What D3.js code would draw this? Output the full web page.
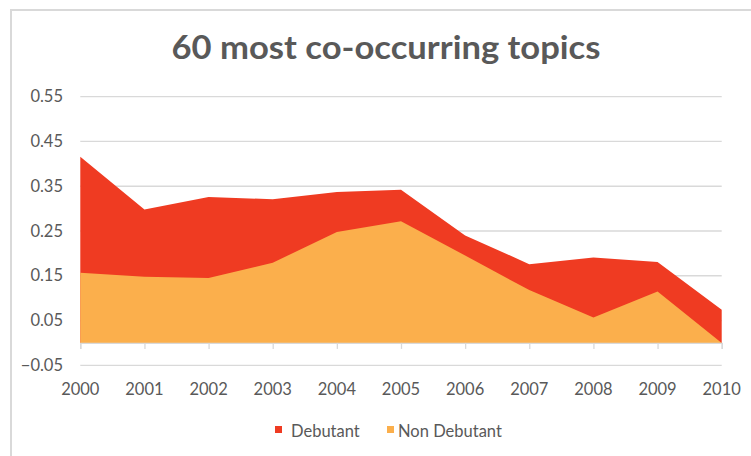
<!DOCTYPE html>
<html>
<head>
<meta charset="utf-8">
<script src="https://cdn.jsdelivr.net/npm/d3@7"></script>
<style>
  body { margin: 0; background: #fff; }
  text { font-family: Lato, "Open Sans", sans-serif; fill: #595959; }
</style>
</head>
<body>
<div id="chart"></div>
<script>
// data
var years = [2000, 2001, 2002, 2003, 2004, 2005, 2006, 2007, 2008, 2009, 2010]
var debutant = [0.416, 0.298, 0.326, 0.321, 0.337, 0.342, 0.240, 0.176, 0.191, 0.181, 0.074]
var nonDebutant = [0.157, 0.148, 0.145, 0.179, 0.248, 0.272, 0.195, 0.118, 0.057, 0.115, 0.0]
var yTicks = [-0.05, 0.05, 0.15, 0.25, 0.35, 0.45, 0.55]
var seriesNames = ["Debutant", "Non Debutant"]
var colors = ["#EF3B22", "#FBAF4C"]

var W = 751, H = 456
var x0 = 80.3, x1 = 721.7, yTop = 96.7, yBot = 365.3

var svg = d3.select("#chart").append("svg")
  .attr("width", W).attr("height", H)

// chart border (cropped at right/bottom)
svg.append("path")
  .attr("d", "M11,456 V10 H751")
  .attr("fill", "none").attr("stroke", "#d9d9d9").attr("stroke-width", 2)

var x = d3.scaleLinear().domain([2000, 2010]).range([x0, x1])
var y = d3.scaleLinear().domain([-0.05, 0.55]).range([yBot, yTop])

// gridlines
svg.append("g").selectAll("line").data(yTicks).enter().append("line")
  .attr("x1", x0).attr("x2", x1)
  .attr("y1", d => y(d)).attr("y2", d => y(d))
  .attr("stroke", "#d9d9d9").attr("stroke-width", 1.3)

// y labels
svg.append("g").selectAll("text").data(yTicks).enter().append("text")
  .attr("x", 63).attr("y", d => y(d) + 5.5)
  .attr("text-anchor", "end").style("font-size", "16.5px")
  .text(d => d3.format(".2f")(d))

// areas (overlapping, not stacked)
var series = [debutant, nonDebutant]
series.forEach((vals, i) => {
  var area = d3.area()
    .x((d, j) => x(years[j]))
    .y0(y(0))
    .y1(d => y(d))
  svg.append("path")
    .datum(vals)
    .attr("d", area)
    .attr("fill", colors[i])
})

// category axis at zero with ticks
var xAxis = svg.append("g")
  .attr("transform", "translate(0," + y(0) + ")")
  .call(d3.axisBottom(x).tickValues(years).tickSize(6).tickFormat(""))
xAxis.select(".domain").attr("stroke", "#d9d9d9").attr("stroke-width", 1.3)
xAxis.selectAll(".tick line").attr("stroke", "#d9d9d9").attr("stroke-width", 1.3)

// x labels at bottom
svg.append("g").selectAll("text").data(years).enter().append("text")
  .attr("x", d => x(d)).attr("y", 395)
  .attr("text-anchor", "middle").style("font-size", "16.5px")
  .text(d => d)

// title
svg.append("text")
  .attr("x", 386).attr("y", 59)
  .attr("text-anchor", "middle")
  .attr("textLength", 429).attr("lengthAdjust", "spacingAndGlyphs")
  .style("font-size", "32px").style("font-weight", "bold")
  .text("60 most co-occurring topics")

// legend
var legendX = [275, 387]
var legendTextX = [291, 398]
seriesNames.forEach((name, i) => {
  svg.append("rect")
    .attr("x", legendX[i]).attr("y", 426)
    .attr("width", 7).attr("height", 7)
    .attr("fill", colors[i])
  svg.append("text")
    .attr("x", legendTextX[i]).attr("y", 437)
    .style("font-size", "16.5px")
    .text(name)
})
</script>
</body>
</html>
